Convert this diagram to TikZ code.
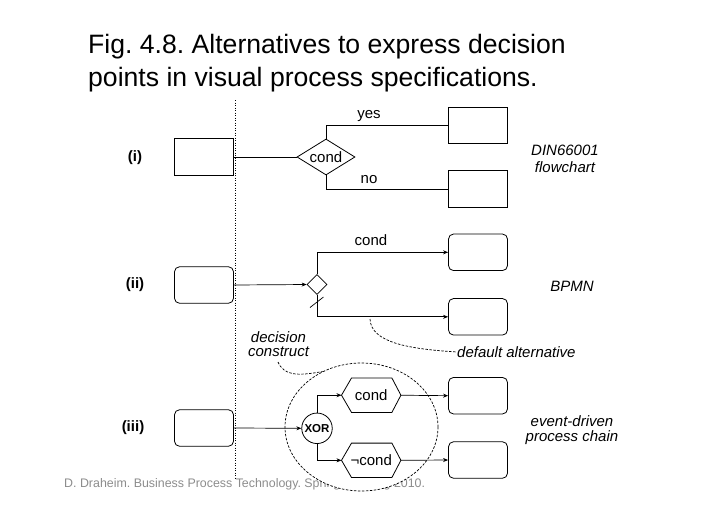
\documentclass[tikz,border=0pt]{standalone}
\usepackage{fontspec}
\setmainfont{Liberation Sans}
\usetikzlibrary{shapes.geometric,arrows.meta}
\frenchspacing
\begin{document}
\begin{tikzpicture}[x=1pt,y=-1pt,
  lbl/.style={font=\fontsize{15}{18}\selectfont, inner sep=0pt},
  ilbl/.style={font=\fontsize{15}{18}\selectfont\itshape, inner sep=0pt},
  blbl/.style={font=\fontsize{15}{18}\selectfont\bfseries, inner sep=0pt},
  box/.style={draw, line width=0.8pt, minimum width=59pt, minimum height=36.5pt, inner sep=0pt},
  rbox/.style={box, rounded corners=5pt},
  conn/.style={line width=0.7pt},
  arr/.style={conn, -{Stealth[length=5pt,width=4pt]}},
  hexa/.style={minimum width=59pt, minimum height=34pt, inner sep=0pt, font=\fontsize{15}{18}\selectfont},
  dsh/.style={line width=0.7pt, dash pattern=on 2.5pt off 1.5pt}
]
\useasboundingbox (0,0) rectangle (728,515);
% title
\node[anchor=base west, font=\fontsize{26.6}{30}\selectfont, inner sep=0pt] (t1) at (88,53) {Fig. 4.8. Alternatives to express decision};
\node[anchor=base west, font=\fontsize{26.6}{30}\selectfont, inner sep=0pt] (t2) at (88,86) {points in visual process specifications.};
% footer
\node[anchor=base west, font=\fontsize{12.4}{14}\selectfont, text=black!45, inner sep=0pt] (foot) at (64,487) {D. Draheim. Business Process Technology. Springer-Verlag 2010.};
% separator
\coordinate (sepT) at (235.5,100);
\coordinate (sepB) at (235.5,478);
\draw[line width=0.8pt, dash pattern=on 1pt off 1.5pt] (sepT) -- (sepB);

% row labels
\node[blbl] (li) at (135,158) {(i)};
\node[blbl] (lii) at (135,285) {(ii)};
\node[blbl] (liii) at (133,428) {(iii)};

% ---- row (i)
\node[box] (i0) at (204,157) {};
\node[draw, shape=diamond, aspect=1.6, minimum width=58pt, minimum height=36pt, inner sep=0pt, line width=0.8pt, font=\fontsize{15}{18}\selectfont] (d1) at (326,157) {cond};
\node[box] (i1) at (478,125.3) {};
\node[box] (i2) at (478,189) {};
\draw[conn] (i0.east) -- (d1.west);
\draw[conn] (d1.north) |- (i1.west);
\draw[conn] (d1.south) |- (i2.west);
\node[lbl] (yes) at (369,116) {yes};
\node[lbl] (no) at (369,180) {no};
\node[ilbl] (din) at (565,150) {DIN66001};
\node[ilbl] (flow) at (565,167) {flowchart};

% ---- row (ii)
\node[rbox] (b0) at (204,285) {};
\node[draw, shape=diamond, minimum width=20pt, minimum height=20pt, inner sep=0pt, line width=0.7pt] (d2) at (317,284.5) {};
\node[rbox] (b1) at (478,252.3) {};
\node[rbox] (b2) at (478,316.8) {};
\draw[arr] (b0.east) -- (d2.west);
\draw[arr] (d2.north) |- (b1.west);
\draw[arr] (d2.south) |- (b2.west);
\draw[conn] (310,307.5) -- (323.5,297);
\node[lbl] (c2) at (371,240) {cond};
\node[ilbl] (bpmn) at (572,286) {BPMN};
\node[ilbl, anchor=west] (dalt) at (457,352) {default alternative};
\coordinate (dstart) at (370,319);
\draw[dsh] (dstart) .. controls (371,343) and (410,349) .. (dalt.west);
\node[ilbl] (dc1) at (278.5,337) {decision};
\node[ilbl] (dc2) at (278.5,352) {construct};

% ---- row (iii)
\node[draw, dsh, fill=white, shape=ellipse, minimum width=153pt, minimum height=128pt, inner sep=0pt] (grp) at (361.5,427) {};
\coordinate (dcs) at (278,362);
\draw[dsh] (dcs) .. controls (284,376) and (298,376) .. (grp.125);
\node[rbox] (c0) at (204,428) {};
\node[draw, circle, minimum size=30.5pt, inner sep=0pt, line width=0.8pt, font=\fontsize{11.5}{13}\selectfont\bfseries] (x) at (317,428.3) {XOR};
\node[hexa] (h1) at (371.2,395.2) {cond};
\node[hexa] (h2) at (371.2,460.3) {¬cond};
\foreach \h in {h1,h2}{
  \draw[line width=0.8pt] (\h.west) -- ([xshift=10pt]\h.north west) -- ([xshift=-9pt]\h.north east) -- (\h.east) -- ([xshift=-9pt]\h.south east) -- ([xshift=10pt]\h.south west) -- cycle;
}
\node[rbox] (c1) at (478,395.7) {};
\node[rbox] (c2b) at (478,460) {};
\draw[arr] (c0.east) -- (x.west);
\draw[arr] (x.north) |- (h1.west);
\draw[arr] (x.south) |- (h2.west);
\draw[arr] (h1.east) -- (c1.west);
\draw[arr] (h2.east) -- (c2b.west);
\node[ilbl] (edp1) at (572,421) {event-driven};
\node[ilbl] (edp2) at (572,438) {process chain};
\end{tikzpicture}
\end{document}
